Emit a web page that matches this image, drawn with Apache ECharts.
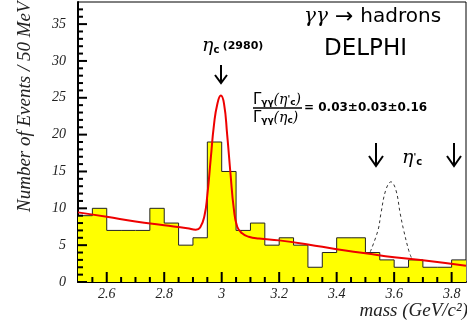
<!DOCTYPE html>
<html>
<head>
<meta charset="utf-8">
<script src="https://cdn.jsdelivr.net/npm/echarts@6/dist/echarts.min.js"></script>
<style>
html, body { margin: 0; padding: 0; background: #fff; }
#chart { width: 467px; height: 324px; }
</style>
</head>
<body>
<div id="chart"></div>
<script>
// histogram: lower edge of each 50 MeV bin and events in it
const binLow = [2.50, 2.55, 2.60, 2.65, 2.70, 2.75, 2.80, 2.85, 2.90, 2.95,
                3.00, 3.05, 3.10, 3.15, 3.20, 3.25, 3.30, 3.35, 3.40, 3.45,
                3.50, 3.55, 3.60, 3.65, 3.70, 3.75, 3.80];
const counts = [9, 10, 7, 7, 7, 10, 8, 5, 6, 19,
                15, 7, 8, 5, 6, 5, 2, 4, 6, 6,
                4, 3, 2, 3, 2, 2, 3];
const binWidth = 0.05;

// red fit: background + eta_c peak
const fitMass  = [2.50, 2.60, 2.70, 2.80, 2.88, 2.91, 2.925, 2.94, 2.95, 2.962, 2.973, 2.985, 2.997,
                  3.008, 3.019, 3.031, 3.042, 3.054, 3.071, 3.094, 3.13, 3.20, 3.30, 3.40, 3.50, 3.60, 3.70, 3.85];
const fitValue = [9.45, 8.85, 8.2, 7.7, 7.3, 7.1, 7.4, 9.0, 11.8, 16.8, 21.3, 24.2, 25.3,
                  24.2, 20.0, 14.5, 10.0, 7.5, 6.6, 6.15, 5.9, 5.65, 5.1, 4.45, 3.9, 3.35, 2.95, 2.2];

// dashed: expected eta_c' signal
const etaPrimeMass  = [3.517, 3.544, 3.554, 3.571, 3.589, 3.606, 3.621, 3.633, 3.651, 3.66];
const etaPrimeValue = [4.1, 7.05, 9.3, 12.5, 13.6, 12.5, 9.3, 7.05, 4.25, 3.3];

// ticks
const xMajorTicks = [2.6, 2.8, 3.0, 3.2, 3.4, 3.6, 3.8];
const xMinorTicks = [2.55, 2.65, 2.7, 2.75, 2.85, 2.9, 2.95, 3.05, 3.1, 3.15, 3.25, 3.3, 3.35,
                     3.45, 3.5, 3.55, 3.65, 3.7, 3.75];
const yMajorTicks = [0, 5, 10, 15, 20, 25, 30, 35];
const yMinorTicks = [1, 2, 3, 4, 6, 7, 8, 9, 11, 12, 13, 14, 16, 17, 18, 19, 21, 22, 23, 24,
                     26, 27, 28, 29, 31, 32, 33, 34, 36, 37];

const chart = echarts.init(document.getElementById('chart'));

// step outline of the histogram
const histData = binLow.map((x, i) => [x, counts[i]]);
histData.push([binLow[binLow.length - 1] + binWidth, counts[counts.length - 1]]);

const labelFont = {
  fontFamily: 'Liberation Serif',
  fontStyle: 'italic',
  fontSize: 14,
  color: '#222'
};

const graphics = [
  // axis titles
  {
    type: 'text', x: 25, y: 212, rotation: Math.PI / 2,
    style: { text: 'Number of Events / 50 MeV', font: 'italic 19px "Liberation Serif"', fill: '#222',
             textAlign: 'left', textVerticalAlign: 'middle' }
  },
  {
    type: 'text', x: 468, y: 311,
    style: { text: 'mass (GeV/c²)', font: 'italic 19px "Liberation Serif"', fill: '#222',
             textAlign: 'right', textVerticalAlign: 'middle' }
  },
  // title texts
  {
    type: 'text', x: 304, y: 17,
    style: { text: '{g|γγ}{a| → }{t|hadrons}', textVerticalAlign: 'middle', fill: '#000',
             rich: {
               g: { font: 'italic 20px "DejaVu Serif"', fill: '#000' },
               a: { font: '22px "DejaVu Sans"', fill: '#000' },
               t: { font: '20px "DejaVu Sans"', fill: '#000' }
             } }
  },
  {
    type: 'text', x: 324, y: 49,
    style: { text: 'DELPHI', font: '23px "DejaVu Sans"', fill: '#000', textVerticalAlign: 'middle' }
  },
  // eta_c label and arrow
  {
    type: 'text', x: 202, y: 46,
    style: { text: '{e|η}{s|c} {n|(2980)}', textVerticalAlign: 'middle', fill: '#000',
             rich: {
               e: { font: 'italic 19px "DejaVu Serif"', fill: '#000' },
               s: { font: 'bold 10px "DejaVu Sans"', fill: '#000', padding: [8, 0, 0, 0] },
               n: { font: 'bold 11px "DejaVu Sans"', fill: '#000' }
             } }
  },
  { type: 'polyline', shape: { points: [[221, 65], [221, 83]] }, style: { stroke: '#000', lineWidth: 2 } },
  { type: 'polyline', shape: { points: [[215, 75], [221, 83], [227, 75]] }, style: { stroke: '#000', lineWidth: 2, fill: null } },
  // ratio of two-photon widths
  {
    type: 'text', x: 253, y: 100,
    style: { text: '{G|Γ}{s|γγ}{p|(η}{q|\'}{s|c}{p|)}', textVerticalAlign: 'middle', fill: '#000',
             rich: {
               G: { font: '15px "DejaVu Sans"', fill: '#000' },
               p: { font: 'italic 14px "DejaVu Serif"', fill: '#000' },
               q: { font: 'bold 9px "DejaVu Sans"', fill: '#000' },
               s: { font: 'bold 9px "DejaVu Sans"', fill: '#000', padding: [6, 0, 0, 0] }
             } }
  },
  { type: 'polyline', shape: { points: [[253, 108], [302, 108]] }, style: { stroke: '#000', lineWidth: 1.5 } },
  {
    type: 'text', x: 253, y: 118,
    style: { text: '{G|Γ}{s|γγ}{p|(η}{s|c}{p|)}', textVerticalAlign: 'middle', fill: '#000',
             rich: {
               G: { font: '15px "DejaVu Sans"', fill: '#000' },
               p: { font: 'italic 14px "DejaVu Serif"', fill: '#000' },
               s: { font: 'bold 9px "DejaVu Sans"', fill: '#000', padding: [6, 0, 0, 0] }
             } }
  },
  {
    type: 'text', x: 304, y: 108,
    style: { text: '= 0.03±0.03±0.16', font: 'bold 12px "DejaVu Sans"', fill: '#000', textVerticalAlign: 'middle' }
  },
  // eta_c' window arrows and label
  { type: 'polyline', shape: { points: [[376, 143], [376, 166]] }, style: { stroke: '#000', lineWidth: 2 } },
  { type: 'polyline', shape: { points: [[369, 156], [376, 166], [383, 156]] }, style: { stroke: '#000', lineWidth: 2, fill: null } },
  { type: 'polyline', shape: { points: [[454, 143], [454, 166]] }, style: { stroke: '#000', lineWidth: 2 } },
  { type: 'polyline', shape: { points: [[447, 156], [454, 166], [461, 156]] }, style: { stroke: '#000', lineWidth: 2, fill: null } },
  {
    type: 'text', x: 402, y: 158,
    style: { text: '{e|η}{q|\'}{s|c}', textVerticalAlign: 'middle', fill: '#000',
             rich: {
               e: { font: 'italic 19px "DejaVu Serif"', fill: '#000' },
               q: { font: 'bold 9px "DejaVu Sans"', fill: '#000' },
               s: { font: 'bold 10px "DejaVu Sans"', fill: '#000', padding: [8, 0, 0, 0] }
             } }
  }
];

const option = {
  animation: false,
  grid: {
    left: 78, right: 1, top: 2, bottom: 42,
    show: true,
    borderColor: '#000',
    borderWidth: 1
  },
  xAxis: {
    type: 'value',
    min: 2.5, max: 3.85,
    axisLine: { lineStyle: { color: '#000', width: 2 } },
    axisTick: { show: false },
    axisLabel: Object.assign({ customValues: xMajorTicks, margin: 5 }, labelFont),
    splitLine: { show: false }
  },
  yAxis: {
    type: 'value',
    min: 0, max: 38,
    axisLine: { show: true, lineStyle: { color: '#000', width: 2 } },
    axisTick: { show: false },
    axisLabel: Object.assign({ customValues: yMajorTicks, margin: 12 }, labelFont),
    splitLine: { show: false }
  },
  series: [
    {
      type: 'line',
      data: histData,
      step: 'end',
      showSymbol: false,
      lineStyle: { color: '#222', width: 1 },
      areaStyle: { color: '#ffff00', opacity: 1 },
      z: 2
    },
    {
      type: 'line',
      data: etaPrimeMass.map((x, i) => [x, etaPrimeValue[i]]),
      smooth: 0.4,
      showSymbol: false,
      lineStyle: { color: '#333', width: 1, type: [3, 3] },
      z: 3
    },
    {
      type: 'line',
      data: fitMass.map((x, i) => [x, fitValue[i]]),
      smooth: 0.5,
      showSymbol: false,
      lineStyle: { color: '#ee0000', width: 2 },
      z: 4
    }
  ],
  graphic: graphics
};

chart.setOption(option);

// tick marks inside the frame, placed through the axis scales
const tickLines = [];
const addTick = (v, len, onX) => {
  const p = chart.convertToPixel({ xAxisIndex: 0, yAxisIndex: 0 }, onX ? [v, 0] : [2.5, v]);
  if (!p || isNaN(p[0]) || isNaN(p[1])) {
    tickLines.push({ type: 'text', x: 100, y: 150, style: { text: 'ERR ' + JSON.stringify(p), fill: '#f00', font: '12px sans-serif' } });
    return;
  }
  const end = onX ? [p[0], p[1] - len] : [p[0] + len, p[1]];
  tickLines.push({ type: 'polyline', z: 100, shape: { points: [[p[0], p[1]], end] },
                   style: { stroke: '#000', lineWidth: 2 } });
};
xMajorTicks.forEach(v => addTick(v, 10, true));
xMinorTicks.forEach(v => addTick(v, 5, true));
yMajorTicks.forEach(v => addTick(v, 9, false));
yMinorTicks.forEach(v => addTick(v, 5, false));

chart.setOption({ graphic: graphics.concat(tickLines) });
</script>
</body>
</html>
